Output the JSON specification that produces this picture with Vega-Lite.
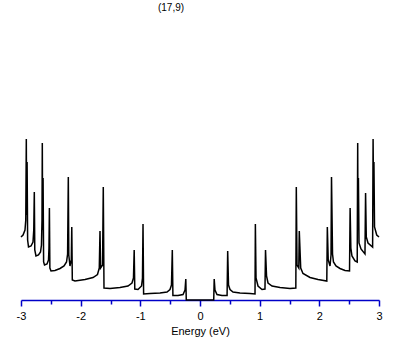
{
  "$schema": "https://vega.github.io/schema/vega-lite/v6.json",
  "autosize": "none",
  "width": 358,
  "height": 280,
  "padding": {"left": 21, "top": 20, "right": 30, "bottom": 45},
  "background": "white",
  "title": {"text": "(17,9)", "font": "Liberation Sans", "fontSize": 10, "fontWeight": "normal", "color": "black", "anchor": "middle", "dx": -29, "offset": 7},
  "config": {"view": {"stroke": null}},
  "data": {"values": [
    {"E": -3.000, "dos": 63}, {"E": -2.966, "dos": 65}, {"E": -2.933, "dos": 70}, {"E": -2.920, "dos": 80},
    {"E": -2.911, "dos": 161}, {"E": -2.906, "dos": 85}, {"E": -2.898, "dos": 138}, {"E": -2.889, "dos": 60},
    {"E": -2.874, "dos": 53}, {"E": -2.832, "dos": 54}, {"E": -2.799, "dos": 58}, {"E": -2.786, "dos": 70},
    {"E": -2.777, "dos": 108}, {"E": -2.769, "dos": 50}, {"E": -2.749, "dos": 44}, {"E": -2.707, "dos": 45},
    {"E": -2.673, "dos": 48}, {"E": -2.657, "dos": 55}, {"E": -2.648, "dos": 80}, {"E": -2.643, "dos": 157},
    {"E": -2.637, "dos": 70}, {"E": -2.630, "dos": 122}, {"E": -2.621, "dos": 38}, {"E": -2.606, "dos": 35},
    {"E": -2.564, "dos": 36}, {"E": -2.539, "dos": 40}, {"E": -2.531, "dos": 52}, {"E": -2.524, "dos": 92},
    {"E": -2.516, "dos": 32}, {"E": -2.497, "dos": 29}, {"E": -2.430, "dos": 29.5}, {"E": -2.346, "dos": 31.5},
    {"E": -2.279, "dos": 34}, {"E": -2.237, "dos": 38}, {"E": -2.219, "dos": 46}, {"E": -2.207, "dos": 123},
    {"E": -2.199, "dos": 45}, {"E": -2.179, "dos": 34}, {"E": -2.157, "dos": 40}, {"E": -2.149, "dos": 73},
    {"E": -2.140, "dos": 20}, {"E": -2.095, "dos": 19}, {"E": -1.927, "dos": 20.5}, {"E": -1.793, "dos": 22.5},
    {"E": -1.718, "dos": 25.5}, {"E": -1.688, "dos": 32}, {"E": -1.676, "dos": 69}, {"E": -1.666, "dos": 32},
    {"E": -1.633, "dos": 35}, {"E": -1.621, "dos": 113}, {"E": -1.609, "dos": 12}, {"E": -1.508, "dos": 11.5},
    {"E": -1.341, "dos": 12.5}, {"E": -1.207, "dos": 14}, {"E": -1.140, "dos": 17}, {"E": -1.115, "dos": 22},
    {"E": -1.103, "dos": 50}, {"E": -1.093, "dos": 11}, {"E": -1.039, "dos": 10.5}, {"E": -0.980, "dos": 14},
    {"E": -0.964, "dos": 22}, {"E": -0.955, "dos": 76}, {"E": -0.945, "dos": 6}, {"E": -0.838, "dos": 6.5},
    {"E": -0.670, "dos": 7}, {"E": -0.553, "dos": 8}, {"E": -0.503, "dos": 10.5}, {"E": -0.478, "dos": 15},
    {"E": -0.464, "dos": 50}, {"E": -0.454, "dos": 4.5}, {"E": -0.369, "dos": 4.5}, {"E": -0.285, "dos": 5.5},
    {"E": -0.251, "dos": 10}, {"E": -0.238, "dos": 21}, {"E": -0.230, "dos": 0}, {"E": 0.230, "dos": 0},
    {"E": 0.238, "dos": 21}, {"E": 0.251, "dos": 10}, {"E": 0.285, "dos": 5.5}, {"E": 0.369, "dos": 4.5},
    {"E": 0.454, "dos": 4.5}, {"E": 0.464, "dos": 49}, {"E": 0.478, "dos": 15}, {"E": 0.503, "dos": 10.5},
    {"E": 0.553, "dos": 8}, {"E": 0.670, "dos": 7}, {"E": 0.838, "dos": 6.5}, {"E": 0.922, "dos": 6},
    {"E": 0.928, "dos": 76}, {"E": 0.939, "dos": 22}, {"E": 0.972, "dos": 14}, {"E": 1.039, "dos": 10.5},
    {"E": 1.089, "dos": 11}, {"E": 1.098, "dos": 50}, {"E": 1.115, "dos": 24}, {"E": 1.140, "dos": 17},
    {"E": 1.207, "dos": 14}, {"E": 1.341, "dos": 12.5}, {"E": 1.508, "dos": 11.5}, {"E": 1.606, "dos": 12},
    {"E": 1.614, "dos": 113}, {"E": 1.626, "dos": 35}, {"E": 1.656, "dos": 32}, {"E": 1.664, "dos": 69},
    {"E": 1.688, "dos": 32}, {"E": 1.726, "dos": 26.5}, {"E": 1.844, "dos": 22.5}, {"E": 1.978, "dos": 20.5},
    {"E": 2.125, "dos": 19}, {"E": 2.134, "dos": 73}, {"E": 2.149, "dos": 40}, {"E": 2.179, "dos": 34},
    {"E": 2.196, "dos": 45}, {"E": 2.204, "dos": 123}, {"E": 2.221, "dos": 46}, {"E": 2.237, "dos": 38},
    {"E": 2.279, "dos": 34}, {"E": 2.346, "dos": 31.5}, {"E": 2.430, "dos": 29.5}, {"E": 2.506, "dos": 29},
    {"E": 2.516, "dos": 92}, {"E": 2.528, "dos": 52}, {"E": 2.547, "dos": 44}, {"E": 2.598, "dos": 39},
    {"E": 2.635, "dos": 38}, {"E": 2.643, "dos": 157}, {"E": 2.648, "dos": 70}, {"E": 2.655, "dos": 122},
    {"E": 2.665, "dos": 57}, {"E": 2.698, "dos": 51}, {"E": 2.765, "dos": 46}, {"E": 2.775, "dos": 107},
    {"E": 2.787, "dos": 63}, {"E": 2.816, "dos": 57}, {"E": 2.893, "dos": 53}, {"E": 2.901, "dos": 161},
    {"E": 2.908, "dos": 108}, {"E": 2.915, "dos": 138}, {"E": 2.925, "dos": 73}, {"E": 2.962, "dos": 65},
    {"E": 3.000, "dos": 63}
  ]},
  "mark": {"type": "line", "color": "black", "strokeWidth": 1.5, "interpolate": "linear"},
  "encoding": {
    "x": {
      "field": "E", "type": "quantitative",
      "scale": {"domain": [-3, 3], "nice": false, "zero": false},
      "axis": {
        "title": "Energy (eV)",
        "values": [-3, -2.5, -2, -1.5, -1, -0.5, 0, 0.5, 1, 1.5, 2, 2.5, 3],
        "labelExpr": "datum.value % 1 === 0 ? '' + datum.value : ''",
        "grid": false,
        "domainColor": "#0000c8",
        "domainWidth": 1.5,
        "tickColor": "#0000c8",
        "tickWidth": 1.5,
        "tickSize": {"condition": {"test": "datum.value % 1 === 0", "value": 6}, "value": 4},
        "labelFont": "Liberation Sans",
        "labelFontSize": 11,
        "labelColor": "black",
        "labelPadding": 4,
        "labelFlush": false,
        "labelOverlap": false,
        "titleFont": "Liberation Sans",
        "titleFontSize": 11,
        "titleFontWeight": "normal",
        "titleColor": "black",
        "titlePadding": 4
      }
    },
    "y": {
      "field": "dos", "type": "quantitative",
      "scale": {"domain": [0, 280], "nice": false},
      "axis": null
    }
  }
}
